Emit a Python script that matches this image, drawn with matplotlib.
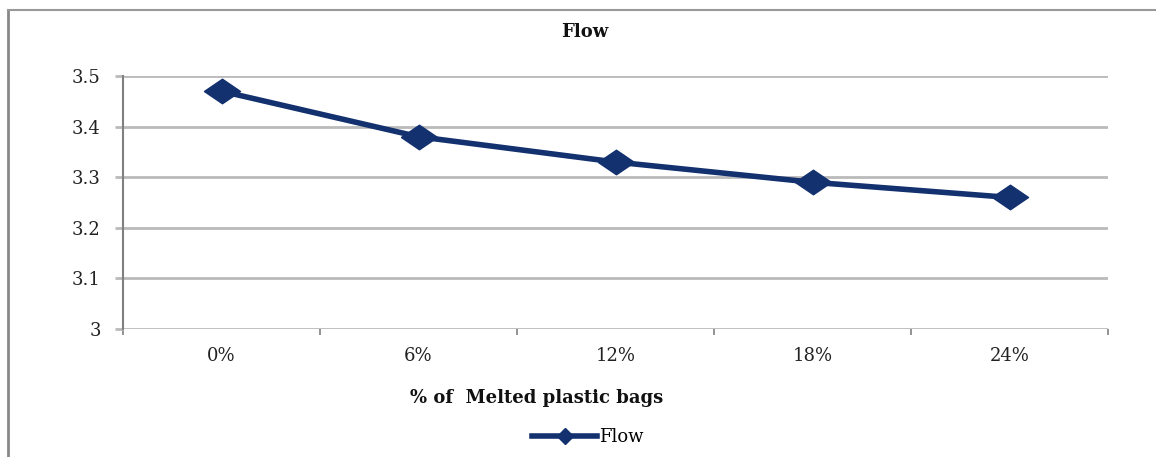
import matplotlib
matplotlib.use('Agg')
import matplotlib.pyplot as plt
from matplotlib.lines import Line2D

# Flow against melted plastic bag content
categories = ['0%', '6%', '12%', '18%', '24%']
flow = [3.47, 3.38, 3.33, 3.29, 3.26]
y_ticks = [3, 3.1, 3.2, 3.3, 3.4, 3.5]
y_labels = ['3', '3.1', '3.2', '3.3', '3.4', '3.5']

navy = '#13306f'
grid_grey = '#bababa'

plt.rcParams['font.family'] = ['DejaVu Serif']

fig = plt.figure(figsize=(11.56, 4.57), dpi=100)
ax = fig.add_axes([123/1156, 1 - 329/457, (1108 - 123)/1156, (329 - 76)/457])

# flattened diamond marker
diamond = [(-1, 0), (0, 0.68), (1, 0), (0, -0.68), (-1, 0)]

x = list(range(len(categories)))
ax.plot(x, flow, color=navy, linewidth=4, marker=diamond, markersize=26,
        markerfacecolor=navy, markeredgecolor=navy, zorder=3, clip_on=False)

ax.set_xlim(-0.5, len(categories) - 0.5)
ax.set_ylim(3, 3.5)
ax.set_xticks(x)
ax.set_xticklabels(categories, fontsize=13, color='#222222')
ax.set_xticks([i - 0.5 for i in range(len(categories) + 1)], minor=True)
ax.tick_params(axis='x', which='major', length=0, pad=13)
ax.tick_params(axis='x', which='minor', length=4, width=1.2, color='#808080', direction='out')

ax.set_yticks(y_ticks)
ax.set_yticklabels(y_labels, fontsize=13, color='#222222')
ax.tick_params(axis='y', length=6, width=2, color=grid_grey, pad=10)

ax.grid(axis='y', color=grid_grey, linewidth=2)
ax.set_axisbelow(True)
for side in ['top', 'right', 'bottom']:
    ax.spines[side].set_visible(False)
ax.spines['left'].set_color('#808080')
ax.spines['left'].set_linewidth(1.5)

fig.text(585/1156, 1 - 32/457, 'Flow', ha='center', va='center',
         fontsize=13, fontweight='bold', color='#111111')
fig.text(537/1156, 1 - 398/457, '% of  Melted plastic bags', ha='center', va='center',
         fontsize=13, fontweight='bold', color='#111111')

handle = Line2D([], [], color=navy, linewidth=4, marker='D', markersize=8,
                markerfacecolor=navy, markeredgecolor=navy)
fig.legend([handle], ['Flow'], loc='center', bbox_to_anchor=(588/1156, 1 - 437/457),
           frameon=False, fontsize=13, handlelength=3.6, handletextpad=0.1)

# outer chart frame (left and top edges)
fig.add_artist(Line2D([8/1156, 8/1156], [0, 1 - 10/457], transform=fig.transFigure,
                      color='#888888', linewidth=2))
fig.add_artist(Line2D([8/1156, 1], [1 - 10/457, 1 - 10/457], transform=fig.transFigure,
                      color='#999999', linewidth=1.5))

fig.savefig('out.png', dpi=100)
